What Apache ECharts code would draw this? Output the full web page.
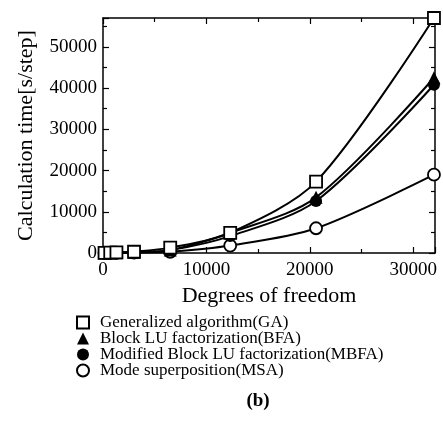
<!DOCTYPE html>
<html>
<head>
<meta charset="utf-8">
<script src="https://cdn.jsdelivr.net/npm/echarts@6/dist/echarts.min.js"></script>
<style>
  html, body { margin: 0; padding: 0; background: #fff; }
  #chart { width: 443px; height: 424px; }
</style>
</head>
<body>
<div id="chart"></div>
<script>
// degrees of freedom
const dof = [150, 700, 1300, 3000, 6500, 12300, 20600, 32000]
// calculation time [s/step]
const gaTime = [50, 100, 150, 300, 1300, 4900, 17300, 57000]
const bfaTime = [20, 50, 80, 200, 700, 4900, 13500, 42500]
const mbfaTime = [20, 50, 80, 200, 700, 4100, 12600, 40800]
const msaTime = [10, 20, 40, 100, 300, 1800, 6000, 19000]

const seriesNames = [
  'Generalized algorithm(GA)',
  'Block LU factorization(BFA)',
  'Modified Block LU factorization(MBFA)',
  'Mode superposition(MSA)'
]

const font = 'Liberation Serif, Times New Roman, serif'

function pairs(ys) {
  return dof.map((x, i) => [x, ys[i]])
}

function makeSeries(name, ys, symbol, filled) {
  return {
    name: name,
    type: 'line',
    data: pairs(ys),
    smooth: 0.3,
    symbol: symbol,
    symbolSize: symbol === 'triangle' ? 13 : 12,
    showAllSymbol: true,
    lineStyle: { color: '#000', width: 2 },
    itemStyle: {
      color: filled ? '#000' : '#fff',
      borderColor: '#000',
      borderWidth: filled ? 0 : 1.8
    },
    emphasis: { disabled: true },
    z: 3
  }
}

const chart = echarts.init(document.getElementById('chart'))

const axisCommon = {
  min: 0,
  axisLine: { show: true, onZero: false, lineStyle: { color: '#000', width: 1.5 } },
  axisTick: { show: true, inside: true, length: 6, lineStyle: { color: '#000', width: 1.2 } },
  minorTick: { show: true, splitNumber: 2, length: 4, lineStyle: { color: '#000', width: 1.2 } },
  splitLine: { show: false }
}

chart.setOption({
  animation: false,
  textStyle: { fontFamily: font, color: '#000' },
  title: {
    text: '(b)',
    left: 253,
    top: 387,
    textAlign: 'center',
    textStyle: { fontFamily: font, fontSize: 19, fontWeight: 'bold', color: '#000' }
  },
  grid: { left: 103, right: 8, top: 18, bottom: 171 },
  legend: {
    orient: 'vertical',
    left: 76,
    top: 314,
    itemWidth: 12,
    itemHeight: 12,
    itemGap: -1,
    padding: 0,
    selectedMode: false,
    textStyle: { fontFamily: font, fontSize: 17, lineHeight: 15, color: '#000', padding: [0, 0, 0, 6] },
    data: [
      { name: seriesNames[0], icon: 'rect' },
      { name: seriesNames[1], icon: 'triangle' },
      { name: seriesNames[2], icon: 'circle' },
      { name: seriesNames[3], icon: 'circle' }
    ]
  },
  xAxis: [
    Object.assign({}, axisCommon, {
      type: 'value',
      max: 32100,
      interval: 10000,
      name: 'Degrees of freedom',
      nameLocation: 'middle',
      nameGap: 23,
      nameTextStyle: { fontFamily: font, fontSize: 22, color: '#000' },
      axisLabel: {
        fontFamily: font, fontSize: 19, color: '#000', margin: 8,
        showMaxLabel: false,
        formatter: v => (v <= 30000 ? String(v) : '')
      }
    }),
    Object.assign({}, axisCommon, {
      type: 'value',
      position: 'top',
      max: 32100,
      interval: 10000,
      axisLabel: { show: false }
    })
  ],
  yAxis: [
    Object.assign({}, axisCommon, {
      type: 'value',
      max: 57000,
      interval: 10000,
      name: 'Calculation time[s/step]',
      nameLocation: 'middle',
      nameGap: 66,
      nameTextStyle: { fontFamily: font, fontSize: 22, color: '#000' },
      axisLabel: {
        fontFamily: font, fontSize: 19, color: '#000', margin: 6,
        formatter: v => (v <= 50000 ? String(v) : '')
      }
    }),
    Object.assign({}, axisCommon, {
      type: 'value',
      position: 'right',
      max: 57000,
      interval: 10000,
      axisLabel: { show: false }
    })
  ],
  series: [
    makeSeries(seriesNames[3], msaTime, 'circle', false),
    makeSeries(seriesNames[2], mbfaTime, 'circle', true),
    makeSeries(seriesNames[1], bfaTime, 'triangle', true),
    makeSeries(seriesNames[0], gaTime, 'rect', false)
  ]
})
</script>
</body>
</html>
